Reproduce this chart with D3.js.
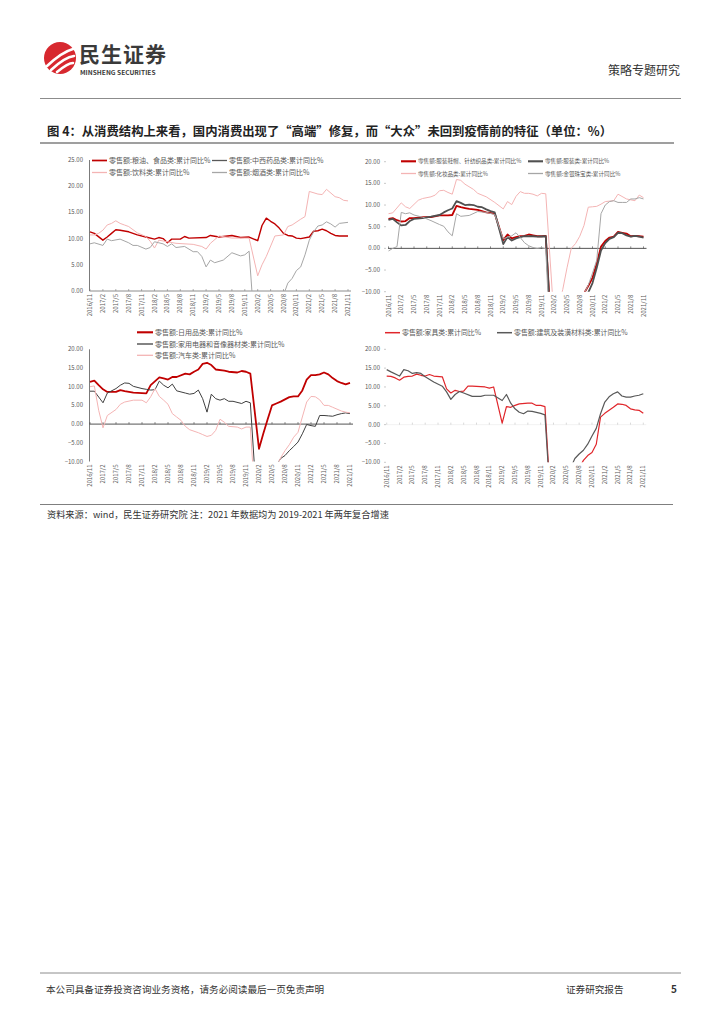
<!DOCTYPE html>
<html>
<head>
<meta charset="utf-8">
<script src="https://cdn.jsdelivr.net/npm/d3@7"></script>
<style>
  body { margin: 0; background: #fff; }
  svg { display: block; font-family: "Noto Sans CJK SC", "Noto Sans", sans-serif; }
</style>
</head>
<body>
<svg id="page" width="724" height="1024"></svg>
<script>
// 横轴刻度标签（每季度一个），四张小图共用
const X_TICKS = [
  "2016/11", "2017/2", "2017/5", "2017/8", "2017/11", "2018/2", "2018/5", "2018/8", "2018/11",
  "2019/2", "2019/5", "2019/8", "2019/11", "2020/2", "2020/5", "2020/8", "2020/11",
  "2021/2", "2021/5", "2021/8", "2021/11",
];
const Y_TICKS_TOPLEFT = [0, 5, 10, 15, 20, 25];
const Y_TICKS_OTHERS = [-10, -5, 0, 5, 10, 15, 20];

// 图例文字
const LEGEND_1 = ["零售额:粮油、食品类:累计同比%", "零售额:中西药品类:累计同比%", "零售额:饮料类:累计同比%", "零售额:烟酒类:累计同比%"];
const LEGEND_2 = ["零售额:服装鞋帽、针纺织品类:累计同比%", "零售额:服装类:累计同比%", "零售额:化妆品类:累计同比%", "零售额:金银珠宝类:累计同比%"];
const LEGEND_3 = ["零售额:日用品类:累计同比%", "零售额:家用电器和音像器材类:累计同比%", "零售额:汽车类:累计同比%"];
const LEGEND_4 = ["零售额:家具类:累计同比%", "零售额:建筑及装潢材料类:累计同比%"];

// ---- 图1：粮油食品 / 中西药品 / 饮料 / 烟酒（[月份, 累计同比%]）
const FOOD = [
  ["2016/11", 11.3], ["2016/12", 11.0], ["2017/2", 9.7], ["2017/3", 10.3], ["2017/4", 11.0], ["2017/5", 11.7],
  ["2017/6", 11.6], ["2017/8", 11.3], ["2017/10", 10.7], ["2017/12", 10.3], ["2018/2", 9.9], ["2018/3", 10.2],
  ["2018/4", 10.0], ["2018/5", 9.2], ["2018/6", 9.9], ["2018/8", 9.9], ["2018/9", 10.4], ["2018/10", 10.1],
  ["2019/2", 10.2], ["2019/3", 10.6], ["2019/5", 10.3], ["2019/8", 10.6], ["2019/10", 10.2], ["2019/12", 10.3],
  ["2020/2", 9.6], ["2020/3", 12.5], ["2020/4", 13.9], ["2020/5", 13.3], ["2020/6", 12.8], ["2020/7", 12.0],
  ["2020/8", 11.0], ["2020/9", 10.6], ["2020/10", 10.5], ["2020/11", 10.1], ["2020/12", 10.0], ["2021/2", 10.3],
  ["2021/3", 11.4], ["2021/4", 11.5], ["2021/5", 11.8], ["2021/6", 11.5], ["2021/7", 11.0], ["2021/8", 10.6],
  ["2021/9", 10.5], ["2021/11", 10.5],
];
const MEDICINE = [];  // 图中未见此线
const DRINKS = [
  ["2016/11", 10.7], ["2016/12", 10.7], ["2017/1", 11.0], ["2017/2", 11.6], ["2017/3", 12.6], ["2017/4", 12.9],
  ["2017/5", 13.4], ["2017/6", 12.9], ["2017/7", 12.6], ["2017/8", 12.3], ["2017/10", 11.1], ["2017/12", 10.4],
  ["2018/1", 9.5], ["2018/2", 8.2], ["2018/3", 9.7], ["2018/5", 9.4], ["2018/7", 9.1], ["2018/11", 8.9],
  ["2019/1", 8.5], ["2019/2", 8.0], ["2019/3", 9.1], ["2019/5", 10.5], ["2019/8", 10.1], ["2019/12", 10.1],
  ["2020/2", 2.9], ["2020/3", 5.0], ["2020/4", 6.6], ["2020/6", 10.5], ["2020/8", 10.7], ["2020/9", 12.3],
  ["2020/10", 12.6], ["2020/12", 13.7], ["2021/1", 14.2], ["2021/2", 19.0], ["2021/4", 18.5], ["2021/5", 18.4],
  ["2021/6", 19.4], ["2021/8", 18.0], ["2021/9", 17.8], ["2021/10", 17.3], ["2021/11", 17.2],
];
const TOBACCO = [
  ["2016/11", 9.0], ["2016/12", 9.2], ["2017/2", 8.7], ["2017/3", 9.9], ["2017/4", 9.6], ["2017/6", 9.9],
  ["2017/8", 9.2], ["2017/9", 8.7], ["2017/10", 8.7], ["2017/12", 8.0], ["2018/1", 8.3], ["2018/2", 9.4],
  ["2018/3", 9.2], ["2018/4", 9.0], ["2018/5", 8.5], ["2018/6", 9.0], ["2018/7", 8.3], ["2018/9", 8.5],
  ["2018/11", 7.5], ["2018/12", 7.5], ["2019/1", 6.6], ["2019/2", 4.6], ["2019/3", 5.9], ["2019/4", 5.4],
  ["2019/6", 5.9], ["2019/8", 7.3], ["2019/10", 6.7], ["2019/11", 6.9], ["2019/12", 7.6], ["2020/2", -15.7],
  ["2020/3", -13.0], ["2020/4", -10.0], ["2020/5", -8.0], ["2020/6", -5.5], ["2020/7", -3.0], ["2020/8", -0.8],
  ["2020/9", 1.5], ["2020/10", 2.4], ["2020/11", 3.9], ["2020/12", 4.6], ["2021/1", 6.9], ["2021/2", 9.7],
  ["2021/3", 11.3], ["2021/4", 12.4], ["2021/5", 12.6], ["2021/6", 13.2], ["2021/7", 12.8], ["2021/8", 12.2],
  ["2021/9", 12.9], ["2021/11", 13.1],
];

// ---- 图2：服装鞋帽针纺织品 / 服装 / 化妆品 / 金银珠宝
const CLOTHING_ALL = [
  ["2016/11", 6.8], ["2016/12", 7.0], ["2017/1", 6.5], ["2017/2", 6.2], ["2017/3", 6.3], ["2017/4", 7.0],
  ["2017/5", 7.0], ["2017/7", 7.2], ["2017/9", 7.2], ["2017/11", 7.6], ["2018/1", 7.6], ["2018/2", 7.7],
  ["2018/3", 9.8], ["2018/4", 9.5], ["2018/5", 9.3], ["2018/6", 9.1], ["2018/8", 8.9], ["2018/10", 8.3],
  ["2018/12", 8.0], ["2019/2", 1.9], ["2019/3", 3.2], ["2019/4", 2.3], ["2019/5", 2.6], ["2019/6", 2.8],
  ["2019/7", 2.9], ["2019/8", 3.2], ["2019/9", 3.0], ["2019/10", 2.8], ["2019/11", 2.8], ["2019/12", 2.9],
  ["2020/2", -30.9], ["2020/3", -26.2], ["2020/4", -23.1], ["2020/5", -19.4], ["2020/6", -16.7], ["2020/7", -14.5],
  ["2020/8", -12.5], ["2020/9", -10.4], ["2020/10", -8.7], ["2020/11", -6.8], ["2020/12", -3.5], ["2021/1", 0.4],
  ["2021/2", 1.7], ["2021/3", 2.5], ["2021/4", 2.7], ["2021/5", 3.8], ["2021/6", 3.6], ["2021/7", 3.4],
  ["2021/8", 2.8], ["2021/9", 2.9], ["2021/10", 2.8], ["2021/11", 2.7],
];
const CLOTHES = [
  ["2016/11", 6.6], ["2016/12", 6.8], ["2017/1", 6.0], ["2017/2", 5.3], ["2017/3", 5.4], ["2017/4", 6.3],
  ["2017/5", 6.8], ["2017/7", 7.0], ["2017/9", 7.3], ["2017/11", 7.7], ["2017/12", 8.3], ["2018/1", 8.8],
  ["2018/2", 9.2], ["2018/3", 10.9], ["2018/4", 10.5], ["2018/5", 10.0], ["2018/6", 10.1], ["2018/7", 10.0],
  ["2018/8", 9.6], ["2018/9", 9.5], ["2018/10", 9.0], ["2018/11", 8.6], ["2018/12", 8.3], ["2019/2", 1.0],
  ["2019/3", 2.6], ["2019/4", 1.8], ["2019/5", 2.3], ["2019/6", 2.6], ["2019/7", 2.8], ["2019/8", 2.8],
  ["2019/9", 2.8], ["2019/10", 2.7], ["2019/12", 2.8], ["2020/2", -33.0], ["2020/3", -30.0], ["2020/4", -27.0],
  ["2020/5", -23.0], ["2020/6", -20.0], ["2020/7", -17.0], ["2020/8", -14.5], ["2020/9", -12.5], ["2020/10", -10.2],
  ["2020/11", -8.0], ["2020/12", -4.5], ["2021/1", -0.5], ["2021/2", 1.2], ["2021/3", 2.2], ["2021/4", 2.6],
  ["2021/5", 3.6], ["2021/6", 3.5], ["2021/7", 3.0], ["2021/8", 2.7], ["2021/9", 2.9], ["2021/10", 2.7],
  ["2021/11", 2.5],
];
const COSMETICS = [
  ["2016/11", 8.0], ["2016/12", 8.2], ["2017/2", 10.5], ["2017/3", 9.6], ["2017/4", 9.2], ["2017/6", 11.1],
  ["2017/7", 11.5], ["2017/9", 11.9], ["2017/10", 12.3], ["2017/11", 13.3], ["2017/12", 13.4], ["2018/1", 12.9],
  ["2018/2", 12.5], ["2018/3", 15.9], ["2018/4", 15.7], ["2018/5", 14.8], ["2018/7", 13.6], ["2018/8", 12.7],
  ["2018/10", 11.9], ["2018/12", 10.6], ["2019/2", 9.1], ["2019/3", 10.8], ["2019/4", 10.1], ["2019/5", 12.0],
  ["2019/6", 13.1], ["2019/7", 12.7], ["2019/8", 12.7], ["2019/9", 12.5], ["2019/10", 12.1], ["2019/11", 12.7],
  ["2019/12", 12.6], ["2020/2", -17.0], ["2020/3", -13.5], ["2020/4", -9.5], ["2020/5", -4.5], ["2020/6", 0.0],
  ["2020/7", 1.1], ["2020/8", 2.8], ["2020/9", 5.3], ["2020/10", 9.5], ["2020/11", 9.6], ["2020/12", 9.7],
  ["2021/1", 10.2], ["2021/2", 10.8], ["2021/4", 11.0], ["2021/5", 12.5], ["2021/7", 11.4], ["2021/9", 11.0],
  ["2021/10", 12.3], ["2021/11", 11.7],
];
const JEWELRY = [
  ["2016/11", -0.6], ["2016/12", 0.0], ["2017/1", 0.4], ["2017/2", 8.3], ["2017/3", 8.0], ["2017/4", 8.2],
  ["2017/5", 7.7], ["2017/7", 7.2], ["2017/9", 6.4], ["2017/11", 5.5], ["2017/12", 5.1], ["2018/1", 3.8],
  ["2018/2", 2.9], ["2018/3", 8.0], ["2018/4", 7.4], ["2018/6", 7.6], ["2018/8", 8.5], ["2018/10", 8.3],
  ["2018/12", 7.8], ["2019/2", 2.2], ["2019/3", 2.6], ["2019/4", 2.9], ["2019/5", 3.6], ["2019/6", 2.5],
  ["2019/7", 1.3], ["2019/8", 0.6], ["2019/9", 0.2], ["2019/10", 0.0], ["2019/11", 0.2], ["2019/12", -0.1],
  ["2020/2", -41.0], ["2020/3", -36.0], ["2020/4", -31.0], ["2020/5", -25.0], ["2020/6", -20.0], ["2020/7", -16.0],
  ["2020/8", -13.0], ["2020/9", -10.5], ["2020/10", -8.5], ["2020/11", -5.7], ["2020/12", -2.7], ["2021/1", 8.0],
  ["2021/2", 10.0], ["2021/3", 10.8], ["2021/4", 11.0], ["2021/5", 10.6], ["2021/6", 10.6], ["2021/7", 10.6],
  ["2021/8", 11.4], ["2021/9", 11.4], ["2021/10", 11.7], ["2021/11", 11.4],
];

// ---- 图3：日用品 / 家用电器和音像器材 / 汽车
const DAILY = [
  ["2016/11", 11.3], ["2016/12", 11.6], ["2017/1", 10.4], ["2017/2", 9.3], ["2017/3", 8.6], ["2017/5", 8.6],
  ["2017/6", 9.1], ["2017/7", 8.8], ["2017/9", 8.4], ["2017/11", 8.3], ["2017/12", 8.2], ["2018/1", 10.4],
  ["2018/3", 12.5], ["2018/4", 12.2], ["2018/5", 11.9], ["2018/6", 12.6], ["2018/7", 12.6], ["2018/9", 13.5],
  ["2018/10", 13.3], ["2018/11", 14.0], ["2018/12", 14.6], ["2019/1", 16.1], ["2019/2", 16.4], ["2019/3", 15.8],
  ["2019/4", 14.6], ["2019/6", 14.3], ["2019/7", 14.0], ["2019/9", 13.8], ["2019/10", 14.2], ["2019/11", 14.0],
  ["2019/12", 13.5], ["2020/2", -6.6], ["2020/3", -2.5], ["2020/4", 1.3], ["2020/5", 5.0], ["2020/6", 5.5],
  ["2020/7", 6.0], ["2020/8", 6.6], ["2020/9", 7.2], ["2020/10", 7.4], ["2020/11", 7.4], ["2020/12", 9.0],
  ["2021/1", 11.9], ["2021/2", 13.1], ["2021/3", 13.1], ["2021/4", 13.3], ["2021/5", 13.8], ["2021/6", 13.3],
  ["2021/7", 12.3], ["2021/8", 11.5], ["2021/9", 11.0], ["2021/10", 10.6], ["2021/11", 11.0],
];
const APPLIANCES = [
  ["2016/11", 8.8], ["2016/12", 8.8], ["2017/2", 5.7], ["2017/3", 8.3], ["2017/5", 9.5], ["2017/6", 10.4],
  ["2017/7", 11.0], ["2017/8", 10.9], ["2017/9", 10.1], ["2017/11", 9.5], ["2017/12", 9.3], ["2018/1", 9.1],
  ["2018/2", 9.2], ["2018/3", 11.5], ["2018/4", 10.4], ["2018/5", 9.7], ["2018/6", 10.7], ["2018/7", 8.9],
  ["2018/9", 8.3], ["2018/10", 8.0], ["2018/11", 8.2], ["2018/12", 9.1], ["2019/1", 6.8], ["2019/2", 3.2],
  ["2019/3", 8.0], ["2019/4", 6.8], ["2019/5", 6.4], ["2019/6", 6.8], ["2019/7", 6.1], ["2019/8", 6.1],
  ["2019/10", 5.5], ["2019/11", 6.1], ["2019/12", 5.7], ["2020/2", -30.0], ["2020/3", -26.0], ["2020/4", -21.0],
  ["2020/5", -15.0], ["2020/6", -11.0], ["2020/7", -9.2], ["2020/8", -8.4], ["2020/9", -7.1], ["2020/10", -6.0],
  ["2020/11", -4.8], ["2020/12", -2.6], ["2021/1", -0.1], ["2021/2", -0.4], ["2021/3", -0.6], ["2021/4", 2.3],
  ["2021/5", 2.3], ["2021/6", 2.2], ["2021/7", 2.1], ["2021/8", 2.5], ["2021/9", 2.8], ["2021/10", 3.0],
  ["2021/11", 2.8],
];
const AUTOS = [
  ["2016/11", 10.0], ["2016/12", 10.2], ["2017/1", 3.7], ["2017/2", -1.0], ["2017/3", 2.3], ["2017/5", 3.9],
  ["2017/6", 5.3], ["2017/7", 5.9], ["2017/9", 6.4], ["2017/11", 6.4], ["2017/12", 5.7], ["2018/1", 7.3],
  ["2018/2", 9.5], ["2018/3", 7.4], ["2018/4", 6.4], ["2018/5", 5.3], ["2018/6", 2.8], ["2018/7", 1.9],
  ["2018/8", 1.0], ["2018/9", -0.6], ["2018/10", -1.5], ["2018/12", -2.3], ["2019/1", -2.8], ["2019/2", -3.3],
  ["2019/3", -3.0], ["2019/4", -1.7], ["2019/5", 1.3], ["2019/6", 0.5], ["2019/7", -0.6], ["2019/9", -0.8],
  ["2019/10", -1.3], ["2019/11", -0.8], ["2019/12", -0.8], ["2020/2", -37.0], ["2020/3", -31.0], ["2020/4", -25.0],
  ["2020/5", -20.0], ["2020/6", -11.5], ["2020/7", -9.0], ["2020/8", -7.1], ["2020/9", -5.5], ["2020/10", -3.5],
  ["2020/11", -2.2], ["2020/12", 1.9], ["2021/1", 5.9], ["2021/2", 7.4], ["2021/3", 7.3], ["2021/4", 6.5],
  ["2021/5", 5.0], ["2021/6", 5.0], ["2021/7", 4.5], ["2021/8", 4.0], ["2021/9", 3.5], ["2021/10", 3.2],
  ["2021/11", 3.0],
];

// ---- 图4：家具 / 建筑及装潢材料
const FURNITURE = [
  ["2016/11", 12.9], ["2016/12", 12.8], ["2017/1", 12.4], ["2017/2", 11.8], ["2017/3", 12.6], ["2017/4", 12.8],
  ["2017/5", 12.9], ["2017/6", 13.4], ["2017/7", 13.1], ["2017/8", 12.9], ["2017/9", 13.3], ["2017/10", 12.9],
  ["2017/12", 12.7], ["2018/1", 9.5], ["2018/2", 8.4], ["2018/3", 9.1], ["2018/4", 8.8], ["2018/5", 8.9],
  ["2018/6", 10.2], ["2018/7", 10.2], ["2018/10", 10.0], ["2018/11", 9.7], ["2018/12", 10.0], ["2019/2", 0.4],
  ["2019/3", 4.8], ["2019/4", 4.6], ["2019/5", 5.1], ["2019/6", 5.5], ["2019/8", 5.7], ["2019/9", 5.7],
  ["2019/10", 5.1], ["2019/11", 5.1], ["2019/12", 4.8], ["2020/2", -33.0], ["2020/3", -28.0], ["2020/4", -24.0],
  ["2020/5", -20.0], ["2020/6", -17.0], ["2020/7", -14.0], ["2020/8", -11.5], ["2020/9", -9.5], ["2020/10", -8.2],
  ["2020/11", -7.4], ["2020/12", -5.2], ["2021/1", 2.0], ["2021/2", 3.0], ["2021/3", 3.8], ["2021/4", 4.6],
  ["2021/5", 5.5], ["2021/6", 5.4], ["2021/7", 5.1], ["2021/8", 4.2], ["2021/9", 3.9], ["2021/10", 3.8],
  ["2021/11", 3.0],
];
const BUILDING = [
  ["2016/11", 14.6], ["2016/12", 14.0], ["2017/2", 12.9], ["2017/3", 14.6], ["2017/4", 14.3], ["2017/5", 13.6],
  ["2017/6", 13.8], ["2017/7", 13.6], ["2017/8", 12.7], ["2017/10", 11.3], ["2017/12", 10.2], ["2018/1", 8.7],
  ["2018/2", 6.7], ["2018/3", 8.0], ["2018/4", 8.8], ["2018/5", 8.4], ["2018/7", 7.5], ["2018/9", 7.5],
  ["2018/10", 7.8], ["2018/12", 7.8], ["2019/2", 6.4], ["2019/3", 8.0], ["2019/4", 5.7], ["2019/5", 4.2],
  ["2019/6", 3.3], ["2019/7", 2.9], ["2019/8", 3.6], ["2019/9", 3.5], ["2019/11", 3.0], ["2019/12", 2.6],
  ["2020/2", -33.0], ["2020/3", -28.0], ["2020/4", -23.0], ["2020/5", -18.0], ["2020/6", -11.5], ["2020/7", -9.0],
  ["2020/8", -7.8], ["2020/9", -6.8], ["2020/10", -5.2], ["2020/11", -3.0], ["2020/12", -1.0], ["2021/1", 2.9],
  ["2021/2", 6.0], ["2021/3", 7.4], ["2021/4", 8.2], ["2021/5", 8.7], ["2021/6", 7.6], ["2021/7", 7.3],
  ["2021/8", 7.3], ["2021/9", 7.6], ["2021/10", 7.8], ["2021/11", 8.2],
];

// 月份字符串 -> 自 2016/11 起的月序号
const monthIndex = (s) => {
  const [yy, mm] = s.split("/").map(Number);
  return (yy - 2016) * 12 + mm - 11;
};

const RED = "#c00000", DARK = "#404040", PINK = "#f4b4b4", GRAY = "#a6a6a6";
const svg = d3.select("#page");

// ---------- 页眉 ----------
function drawHeader() {
  const logo = svg.append("g").attr("transform", "translate(60,58)");
  logo.append("circle").attr("r", 16).attr("fill", "#d7282f");
  // 三道白色弧线
  [[-13, 8, 2, -6, 13, -9], [-9, 12, 5, -1, 14, -2], [-3, 14, 8, 5, 13, 5]].forEach((c) => {
    logo.append("path")
      .attr("d", `M${c[0]},${c[1]} Q${c[2]},${c[3]} ${c[4]},${c[5]}`)
      .attr("fill", "none").attr("stroke", "#fff").attr("stroke-width", 2.6).attr("stroke-linecap", "round");
  });
  svg.append("text").attr("x", 79).attr("y", 62)
    .style("font-size", "21px").style("font-weight", "bold").style("fill", "#3a3a3a").style("letter-spacing", "1px")
    .text("民生证券");
  svg.append("text").attr("x", 80).attr("y", 75)
    .style("font-size", "6.6px").style("font-weight", "bold").style("fill", "#3a3a3a")
    .text("MINSHENG SECURITIES");
  svg.append("text").attr("x", 680).attr("y", 75).attr("text-anchor", "end")
    .style("font-size", "12px").style("fill", "#333").text("策略专题研究");
  svg.append("line").attr("x1", 40).attr("x2", 681).attr("y1", 98.5).attr("y2", 98.5)
    .attr("stroke", "#8c8c8c").attr("stroke-width", 1.2);

  svg.append("text").attr("x", 47).attr("y", 136)
    .style("font-size", "12.35px").style("font-weight", "bold").style("fill", "#222")
    .text("图 4：从消费结构上来看，国内消费出现了“高端”修复，而“大众”未回到疫情前的特征（单位：%）");
  svg.append("line").attr("x1", 40).attr("x2", 674).attr("y1", 143).attr("y2", 143)
    .attr("stroke", "#7f7f7f").attr("stroke-width", 1.4);
}

// ---------- 单个小图 ----------
function drawPanel(p, id) {
  const g = svg.append("g");
  const x = d3.scaleLinear().domain([0, 60]).range([p.x0, p.x1]);
  const y = d3.scaleLinear().domain(p.yDomain).range([p.yBottom, p.yTop]);
  const fmt = d3.format(".2f");

  g.append("clipPath").attr("id", `clip${id}`).append("rect")
    .attr("x", p.x0 - 4).attr("y", p.yTop).attr("width", p.x1 - p.x0 + 8).attr("height", p.yBottom - p.yTop);

  // 纵轴标签
  p.yTicks.forEach((v) => {
    g.append("text").attr("x", p.labelX).attr("y", y(v) + 2)
      .attr("text-anchor", "end").style("font-size", "6px").style("fill", "#595959")
      .text(fmt(v));
    if (p.yTickMarks) {
      g.append("line").attr("x1", p.labelX + 4).attr("x2", p.labelX + 6)
        .attr("y1", y(v)).attr("y2", y(v)).attr("stroke", "#a6a6a6").attr("stroke-width", 0.6);
    }
  });
  if (p.yAxisLine) {
    g.append("line").attr("x1", p.axisX).attr("x2", p.axisX).attr("y1", p.yTop).attr("y2", p.yBottom)
      .attr("stroke", "#595959").attr("stroke-width", 0.8);
  }

  // 零轴与季度刻度
  const y0 = y(0);
  g.append("line").attr("x1", p.axisX).attr("x2", p.x1 + 3).attr("y1", y0).attr("y2", y0)
    .attr("stroke", p.zeroColor).attr("stroke-width", 0.9);
  X_TICKS.forEach((t) => {
    const xi = x(monthIndex(t));
    g.append("line").attr("x1", xi).attr("x2", xi).attr("y1", y0).attr("y2", y0 - 2)
      .attr("stroke", p.tickColor).attr("stroke-width", 0.6);
    g.append("text")
      .attr("transform", `translate(${xi + 2},${p.yBottom + 3}) rotate(-90)`)
      .attr("text-anchor", "end").style("font-size", "6px").style("fill", "#595959")
      .text(t);
  });

  // 折线
  const line = d3.line().x((d) => x(monthIndex(d[0]))).y((d) => y(d[1]));
  const lines = g.append("g").attr("clip-path", `url(#clip${id})`);
  p.series.forEach((s) => {
    if (!s.data.length) return;
    lines.append("path").datum(s.data)
      .attr("fill", "none").attr("stroke", s.color).attr("stroke-width", s.width)
      .attr("stroke-linejoin", "round").attr("d", line);
  });

  // 图例
  p.series.forEach((s, i) => {
    const [lx, ly] = p.legendPos[i];
    g.append("line").attr("x1", lx).attr("x2", lx + p.legendLine).attr("y1", ly).attr("y2", ly)
      .attr("stroke", s.color).attr("stroke-width", s.width + 0.3);
    g.append("text").attr("x", lx + p.legendLine + 2).attr("y", ly + p.legendFont * 0.38)
      .style("font-size", `${p.legendFont}px`).style("fill", "#595959")
      .text(s.name);
  });
}

// ---------- 页脚与资料来源 ----------
function drawFooter() {
  svg.append("line").attr("x1", 40).attr("x2", 673).attr("y1", 504.5).attr("y2", 504.5)
    .attr("stroke", "#7f7f7f").attr("stroke-width", 1.2);
  svg.append("text").attr("x", 47).attr("y", 518)
    .style("font-size", "9.2px").style("fill", "#333")
    .text("资料来源：wind，民生证券研究院 注：2021 年数据均为 2019-2021 年两年复合增速");

  svg.append("line").attr("x1", 40).attr("x2", 681).attr("y1", 973).attr("y2", 973)
    .attr("stroke", "#8c8c8c").attr("stroke-width", 1);
  svg.append("text").attr("x", 46).attr("y", 993)
    .style("font-size", "9.6px").style("fill", "#333")
    .text("本公司具备证券投资咨询业务资格，请务必阅读最后一页免责声明");
  svg.append("text").attr("x", 566).attr("y", 993)
    .style("font-size", "9.6px").style("fill", "#333").text("证券研究报告");
  svg.append("text").attr("x", 671).attr("y", 993)
    .style("font-size", "10px").style("font-weight", "bold").style("fill", "#333").text("5");
}

drawHeader();

drawPanel({
  x0: 90, x1: 348, yTop: 160, yBottom: 291, yDomain: [0, 25], yTicks: Y_TICKS_TOPLEFT,
  labelX: 83, axisX: 89.5, yAxisLine: true, yTickMarks: false, zeroColor: "#7f7f7f", tickColor: "#7f7f7f",
  legendLine: 15, legendFont: 7,
  legendPos: [[92, 160.5], [212, 160.5], [92, 172.5], [212, 172.5]],
  series: [
    { name: LEGEND_1[0], data: FOOD, color: RED, width: 1.4 },
    { name: LEGEND_1[1], data: MEDICINE, color: "#595959", width: 1.0 },
    { name: LEGEND_1[2], data: DRINKS, color: PINK, width: 1.0 },
    { name: LEGEND_1[3], data: TOBACCO, color: GRAY, width: 1.0 },
  ],
}, 1);

drawPanel({
  x0: 388.5, x1: 643.5, yTop: 161.7, yBottom: 291.7, yDomain: [-10, 20], yTicks: Y_TICKS_OTHERS,
  labelX: 380, axisX: 388, yAxisLine: false, yTickMarks: true, zeroColor: "#404040", tickColor: "#404040",
  legendLine: 15, legendFont: 5.6,
  legendPos: [[401, 161.3], [528, 161.3], [401, 173.5], [528, 173.5]],
  series: [
    { name: LEGEND_2[0], data: CLOTHING_ALL, color: RED, width: 1.8 },
    { name: LEGEND_2[1], data: CLOTHES, color: "#505050", width: 1.8 },
    { name: LEGEND_2[2], data: COSMETICS, color: PINK, width: 1.0 },
    { name: LEGEND_2[3], data: JEWELRY, color: GRAY, width: 1.0 },
  ],
}, 2);

drawPanel({
  x0: 90, x1: 350, yTop: 349.3, yBottom: 461.5, yDomain: [-10, 20], yTicks: Y_TICKS_OTHERS,
  labelX: 83, axisX: 89.5, yAxisLine: true, yTickMarks: false, zeroColor: "#404040", tickColor: "#404040",
  legendLine: 16, legendFont: 7,
  legendPos: [[137, 332.3], [137, 344], [137, 355.3]],
  series: [
    { name: LEGEND_3[0], data: DAILY, color: RED, width: 1.8 },
    { name: LEGEND_3[1], data: APPLIANCES, color: DARK, width: 1.0 },
    { name: LEGEND_3[2], data: AUTOS, color: PINK, width: 1.0 },
  ],
}, 3);

drawPanel({
  x0: 386.7, x1: 643.3, yTop: 349.3, yBottom: 462.3, yDomain: [-10, 20], yTicks: Y_TICKS_OTHERS,
  labelX: 380, axisX: 386.5, yAxisLine: false, yTickMarks: true, zeroColor: "#f2f2f2", tickColor: "#bfbfbf",
  legendLine: 15, legendFont: 6.9,
  legendPos: [[385, 332.7], [497, 332.7]],
  series: [
    { name: LEGEND_4[0], data: FURNITURE, color: "#e0262b", width: 1.2 },
    { name: LEGEND_4[1], data: BUILDING, color: "#595959", width: 1.2 },
  ],
}, 4);

drawFooter();
</script>
</body>
</html>
